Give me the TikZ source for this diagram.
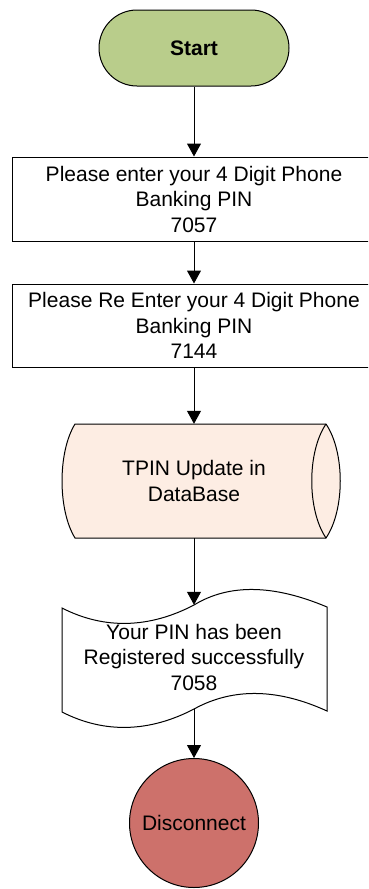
\documentclass[tikz,border=0pt]{standalone}
\usepackage{fontspec}
\setmainfont{Liberation Sans}
\usetikzlibrary{arrows.meta}
\definecolor{startgreen}{RGB}{185,205,139}
\definecolor{dbpeach}{RGB}{253,237,227}
\definecolor{endred}{RGB}{205,113,107}
\begin{document}
\begin{tikzpicture}[x=1pt,y=-1pt,
  every node/.style={font=\fontsize{21}{25.5}\selectfont, align=center, inner sep=0pt},
  flow/.style={draw=black, line width=1pt},
  link/.style={draw=black, line width=1pt, -{Triangle[length=13pt,width=14pt]}}]
\useasboundingbox (0,0) rectangle (368,889);
\clip (0,0) rectangle (368,889);

% database (direct access storage) outline
\draw[flow, fill=dbpeach] (75,424) -- (326,424)
  .. controls (345,452) and (345,510) .. (326,538) -- (75,538)
  .. controls (57.7,510) and (57.7,452) .. (75,424) -- cycle;
\draw[flow] (326,424) .. controls (307,452) and (307,510) .. (326,538);

% document outline with wavy top and bottom
\draw[flow, fill=white] (62,608)
  .. controls (105,630) and (150,628) .. (194,605)
  .. controls (230,583) and (275,585) .. (327,607) -- (327,711)
  .. controls (279,689) and (234,687) .. (194,709)
  .. controls (150,732) and (105,734) .. (62,712) -- cycle;

\node[flow, fill=startgreen, rounded corners=38pt, minimum width=190pt, minimum height=76pt,
      font=\bfseries\fontsize{21}{25.5}\selectfont] (start) at (194,48) {Start};
\node[flow, fill=white, minimum width=363pt, minimum height=84pt] (pin1) at (194,199)
  {Please enter your 4 Digit Phone\\Banking PIN\\7057};
\node[flow, fill=white, minimum width=363pt, minimum height=83pt] (pin2) at (194,325.5)
  {Please Re Enter your 4 Digit Phone\\Banking PIN\\7144};
\node[minimum width=150pt, minimum height=114pt] (db) at (194,481) {TPIN Update in\\DataBase};
\node[minimum width=265pt, minimum height=104pt] (doc) at (194,657)
  {Your PIN has been\\Registered successfully\\7058};
\node[flow, circle, fill=endred, minimum size=129pt] (end) at (194,823) {Disconnect};

\draw[link] (start) -- (pin1);
\draw[link] (pin1) -- (pin2);
\draw[link] (pin2) -- (db);
\draw[link] (db) -- (doc);
\draw[link] (doc) -- (end);
\end{tikzpicture}
\end{document}
